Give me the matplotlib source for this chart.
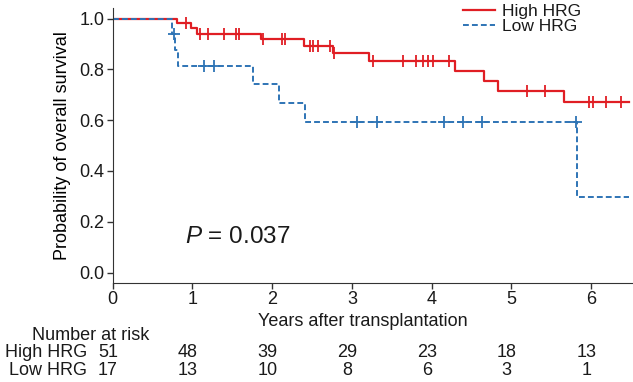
import matplotlib
matplotlib.use("Agg")
import matplotlib.pyplot as plt
import matplotlib.transforms as mtransforms
import numpy as np

plt.rcParams.update(
    {
        "font.family": "Liberation Sans",
        "font.size": 13,
        "mathtext.fontset": "custom",
        "mathtext.rm": "Liberation Sans",
        "mathtext.it": "Liberation Sans:italic",
        "text.color": "#1a1a1a",
        "axes.edgecolor": "#333333",
        "xtick.color": "#333333",
        "ytick.color": "#333333",
        "xtick.labelcolor": "#1a1a1a",
        "ytick.labelcolor": "#1a1a1a",
    }
)

COLORS = {"high": "#E01E24", "low": "#2E74B5"}

# Kaplan-Meier steps (years, survival after the step)
high_times = [0.0, 0.81, 0.98, 1.06, 1.86, 2.40, 2.765, 3.22, 4.29, 4.66, 4.83, 5.66]
high_surv = [1.0, 0.981, 0.962, 0.941, 0.918, 0.893, 0.863, 0.833, 0.794, 0.755, 0.715, 0.670]
high_censor = [0.92, 1.09, 1.20, 1.39, 1.55, 1.59, 1.89, 2.12, 2.16, 2.47, 2.51, 2.58,
               2.72, 2.78, 3.27, 3.64, 3.80, 3.89, 3.96, 4.02, 4.22, 5.20, 5.42,
               5.97, 6.02, 6.19, 6.38]

low_times = [0.0, 0.74, 0.78, 0.82, 1.76, 2.08, 2.41, 5.82]
low_surv = [1.0, 0.941, 0.876, 0.813, 0.742, 0.668, 0.593, 0.296]
low_censor = [0.77, 1.14, 1.27, 3.06, 3.32, 4.15, 4.40, 4.63, 5.81]

follow_up_end = 6.47

risk_times = [0, 1, 2, 3, 4, 5, 6]
risk_high = [51, 48, 39, 29, 23, 18, 13]
risk_low = [17, 13, 10, 8, 6, 3, 1]

p_text = "$P$ = 0.037"


def level_at(times, surv, t):
    idx = np.searchsorted(times, t, side="right") - 1
    return np.asarray(surv)[idx]


fig = plt.figure(figsize=(6.33, 3.82), dpi=100)
ax = fig.add_axes([0.178, 0.260, 0.820, 0.718])

t = list(high_times) + [follow_up_end]
s = list(high_surv) + [high_surv[-1]]
ax.step(t, s, where="post", color=COLORS["high"], lw=1.6, label="High HRG")
ax.plot(high_censor, level_at(high_times, high_surv, np.array(high_censor)),
        ls="none", marker="|", ms=8, mew=1.3, color=COLORS["high"])

t = list(low_times) + [follow_up_end]
s = list(low_surv) + [low_surv[-1]]
ax.step(t, s, where="post", color=COLORS["low"], lw=1.4, ls=(0, (3, 1.6)), label="Low HRG")
ax.plot(low_censor, level_at(low_times, low_surv, np.array(low_censor)),
        ls="none", marker="+", ms=8, mew=1.3, color=COLORS["low"])

ax.set_xlim(0, 6.51)
ax.set_ylim(-0.04, 1.04)
ax.set_xticks(risk_times)
ax.set_yticks([0.0, 0.2, 0.4, 0.6, 0.8, 1.0])
ax.set_yticklabels(["0.0", "0.2", "0.4", "0.6", "0.8", "1.0"])
ax.spines["top"].set_visible(False)
ax.spines["right"].set_visible(False)
ax.tick_params(direction="out", length=4, width=1, labelsize=13, pad=2)

ax.set_ylabel("Probability of overall survival", fontsize=13)
ax.yaxis.set_label_coords(-0.081, 0.5)
ax.text(0.482, -0.143, "Years after transplantation", transform=ax.transAxes,
        ha="center", va="center", fontsize=13)

ax.text(0.906, 0.141, p_text, fontsize=17.5, ha="left", va="center")

fig.legend(loc="upper right", bbox_to_anchor=(0.931, 1.012), frameon=False,
           borderpad=0, handlelength=1.8, handletextpad=0.4, labelspacing=0.0,
           fontsize=12.5)

# number-at-risk table
trans = mtransforms.blended_transform_factory(ax.transData, fig.transFigure)
fig.text(0.050, 0.123, "Number at risk", ha="left", va="center", fontsize=13)
fig.text(0.138, 0.077, "High HRG", ha="right", va="center", fontsize=13)
fig.text(0.138, 0.030, "Low HRG", ha="right", va="center", fontsize=13)
for tt, nh, nl in zip(risk_times, risk_high, risk_low):
    ax.text(tt - 0.06, 0.077, str(nh), transform=trans, ha="center", va="center",
            fontsize=13, clip_on=False)
    ax.text(tt - 0.06, 0.030, str(nl), transform=trans, ha="center", va="center",
            fontsize=13, clip_on=False)

fig.savefig("out.png", dpi=100)
